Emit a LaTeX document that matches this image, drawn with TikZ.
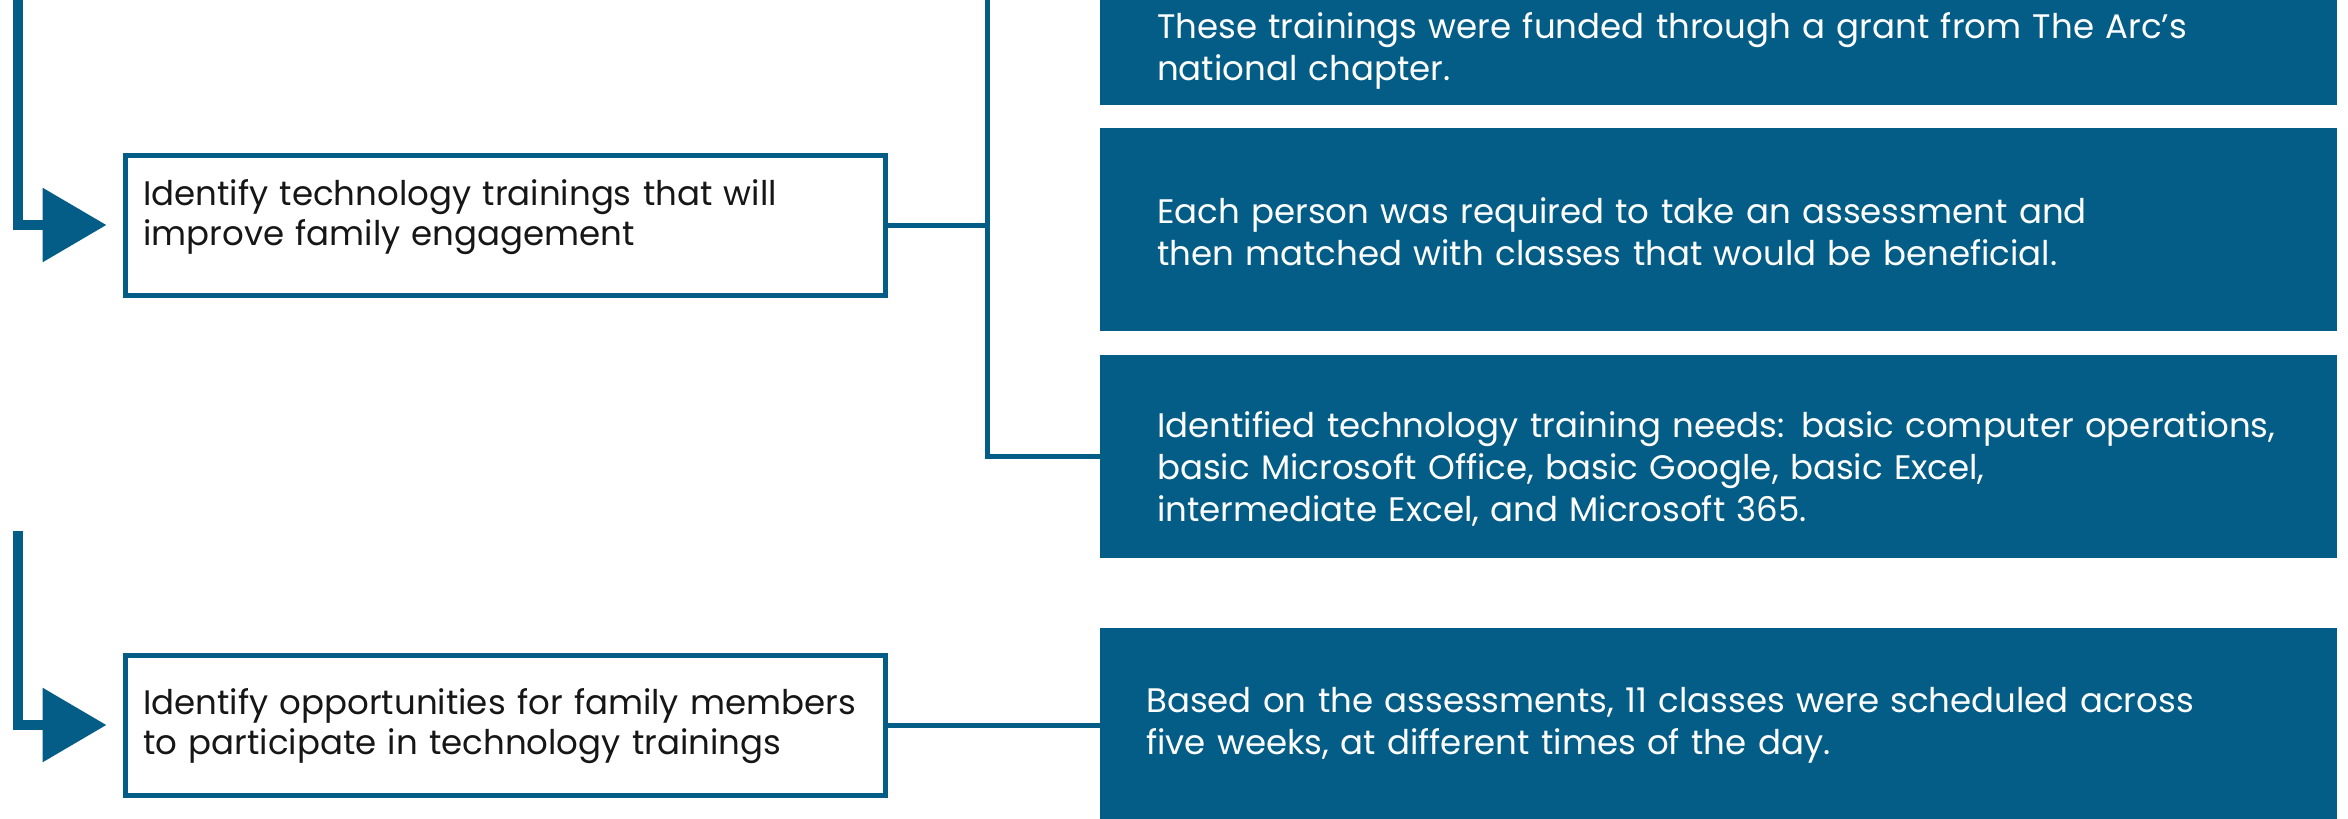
\documentclass[tikz,border=0pt]{standalone}
\usepackage{fontspec}
\setmainfont{Poppins}
\usetikzlibrary{arrows.meta}
\definecolor{arcblue}{RGB}{4,93,135}
\definecolor{inktext}{RGB}{22,22,22}
\begin{document}
\begin{tikzpicture}[x=1pt,y=-1pt,
  goal/.style={draw=arcblue, line width=5pt, fill=white, rectangle,
    inner sep=0pt, minimum width=760pt, minimum height=140pt, anchor=north west},
  result/.style={fill=arcblue, rectangle, inner sep=0pt,
    minimum width=1237pt, anchor=north west},
  goaltext/.style={anchor=base west, inner sep=0pt, text width=750pt, align=left,
    text=inktext, font=\fontsize{34}{40.5}\selectfont},
  resulttext/.style={anchor=base west, inner sep=0pt, text width=1170pt, align=left,
    text=white, font=\fontsize{34}{42.3}\selectfont},
  conn/.style={draw=arcblue, line width=5pt},
  feed/.style={draw=arcblue, line width=10pt, shorten >=16pt,
    -{Triangle[length=64pt,width=72pt]}}]
\useasboundingbox (0,0) rectangle (2348,819);
\clip (0,0) rectangle (2348,819);

% outcome boxes on the right
\node[result, minimum height=125pt] (nA) at (1100,-20) {};
\node[result, minimum height=203pt] (nB) at (1100,128) {};
\node[result, minimum height=203pt] (nC) at (1100,355) {};
\node[result, minimum height=202pt] (nD) at (1100,628) {};

\node[resulttext] (tA) at (1157,38) {These trainings were funded through a grant from The Arc’s\\national chapter.};
\node[resulttext] (tB) at (1157,223) {Each person was required to take an assessment and\\then matched with classes that would be beneficial.};
\node[resulttext] (tC) at (1157,437) {Identified technology training needs: basic computer operations,\\basic Microsoft Office, basic Google, basic Excel,\\intermediate Excel, and Microsoft 365.};
\node[resulttext] (tD) at (1146,712) {Based on the assessments, 11 classes were scheduled across\\five weeks, at different times of the day.};

% goal boxes on the left
\node[goal] (g1) at (122.5,152.5) {};
\node[goal] (g2) at (122.5,652.5) {};
\node[goaltext] (tg1) at (143,205) {Identify technology trainings that will\\improve family engagement};
\node[goaltext] (tg2) at (143,714) {Identify opportunities for family members\\to participate in technology trainings};

% connectors from goals to outcomes
\coordinate (trunktop) at (987.5,-10);
\draw[conn] (g1.east) -- (g1.east -| trunktop);
\draw[conn] (trunktop) |- (nC.west);
\draw[conn] (g2.east) -- (g2.east -| nD.west);

% incoming flow arrows
\coordinate (s1) at (18,-10);
\coordinate (s2) at (18,531);
\draw[feed] (s1) |- (g1.west);
\draw[feed] (s2) |- (g2.west);
\end{tikzpicture}
\end{document}
